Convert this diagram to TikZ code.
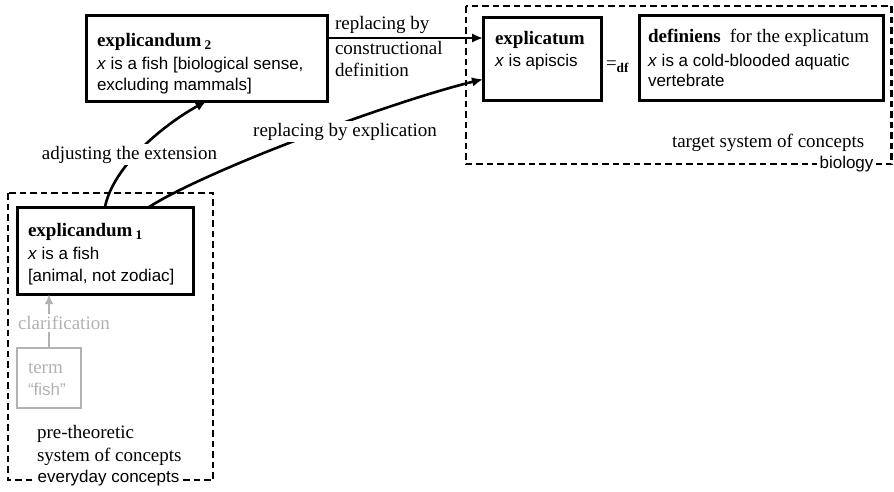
\documentclass[tikz,border=0pt]{standalone}
\usepackage{fontspec}
\setmainfont{Liberation Serif}
\setsansfont{Liberation Sans}
\usetikzlibrary{arrows.meta,calc}
\definecolor{lgray}{RGB}{178,178,178}
\newcommand\boxtitle[1]{{\fontsize{19}{23}\selectfont\rmfamily\bfseries #1}}
\begin{document}
\begin{tikzpicture}[x=1pt,y=-1pt,
  every node/.style={inner sep=0pt,outer sep=0pt},
  box/.style={draw,line width=3pt},
  gbox/.style={draw=lgray,line width=2.2pt},
  dashbox/.style={line width=2.7pt,dash pattern=on 6.5pt off 4pt},
  arr/.style={line width=2.6pt,-{Latex[length=11pt,width=9.5pt]}},
  garr/.style={line width=2.2pt,draw=lgray,-{Latex[length=10pt,width=8.5pt]}},
  sf/.style={font=\fontsize{17}{21}\selectfont\sffamily},
  rm/.style={font=\fontsize{19}{23}\selectfont\rmfamily},
  lab/.style={rm,fill=white,inner sep=2pt}]
\useasboundingbox (0,0) rectangle (894,491);

% dashed systems
\draw[dashbox] (8,193) rectangle (213,480);
\draw[dashbox] (466,6) rectangle (891.5,164);

% boxes
\node[box,minimum width=241pt,minimum height=86pt] (e2) at (206.5,58) {};
\node[box,minimum width=176pt,minimum height=87pt] (e1) at (105,250.5) {};
\node[gbox,minimum width=64pt,minimum height=60pt] (term) at (49,378) {};
\node[box,minimum width=118pt,minimum height=83pt] (ex) at (542,58.5) {};
\node[box,minimum width=244pt,minimum height=85pt] (def) at (761,57.5) {};

% box texts
\node[sf,align=left,anchor=north west] (e2t) at (97,33.5)
  {\boxtitle{explicandum\,\textsubscript{2}}\\[2pt]\textit{x} is a fish [biological sense,\\excluding mammals]};
\node[sf,align=left,anchor=north west] (e1t) at (28,223.5)
  {\boxtitle{explicandum\,\textsubscript{1}}\\[2pt]\textit{x} is a fish\\[1pt][animal, not zodiac]};
\node[sf,align=left,anchor=north west] (ext) at (495,31.5)
  {\boxtitle{explicatum}\\[1pt]\textit{x} is apiscis};
\node[sf,align=left,anchor=north west] (deft) at (648,29.5)
  {{\fontsize{19}{23}\selectfont\rmfamily\textbf{definiens}\hspace{9pt}for the explicatum}\\[3pt]\textit{x} is a cold-blooded aquatic\\[-1pt]vertebrate};
\node[sf,align=left,anchor=north west,text=lgray] (termt) at (28,363)
  {{\fontsize{19}{23}\selectfont\rmfamily term}\\[1pt]“fish”};
\node[rm,anchor=base west] (eqdf) at (606,69) {=\textsubscript{\textbf{df}}};

% connectors
\coordinate (a1) at ($(e2.east)+(0,-20)$);
\draw[arr] (a1) -- (a1 -| ex.west);
\coordinate (s1) at ($(e1.north west)!0.75!(e1.north east)$);
\coordinate (t1) at ($(ex.west)!0.5!(ex.south west)$);
\draw[arr] (s1) .. controls +(60,-38) and +(-90,22) .. (t1);
\draw[arr] (e1.north) .. controls +(8,-40) and +(-45,25) .. (e2.south);
\draw[garr] (term.north) -- (term.north |- e1.south);

% labels
\node[rm,anchor=base west] (rb1) at (335,29.5) {replacing by};
\node[rm,align=left,anchor=north west] (rb2) at (335,41.5) {constructional\\[-1pt]definition};
\node[lab,anchor=base] (adj) at (129.5,159.3) {adjusting the extension};
\node[lab,anchor=base] (rbe) at (345,136.3) {replacing by explication};
\node[rm,text=lgray,fill=white,inner ysep=2pt,anchor=base west] (clar) at (18,329.5) {clarification};
\node[rm,align=left,anchor=north west] (pret) at (37,425) {pre-theoretic\\system of concepts};
\node[rm,anchor=base west] (tgt) at (672,147.5) {target system of concepts};
\node[sf,fill=white,inner xsep=3pt,inner ysep=2pt,anchor=base] (evd) at (108.5,482.5) {everyday concepts};
\node[sf,fill=white,inner xsep=3pt,inner ysep=2pt,anchor=base] (bio) at (846.5,168.5) {biology};
\end{tikzpicture}
\end{document}
